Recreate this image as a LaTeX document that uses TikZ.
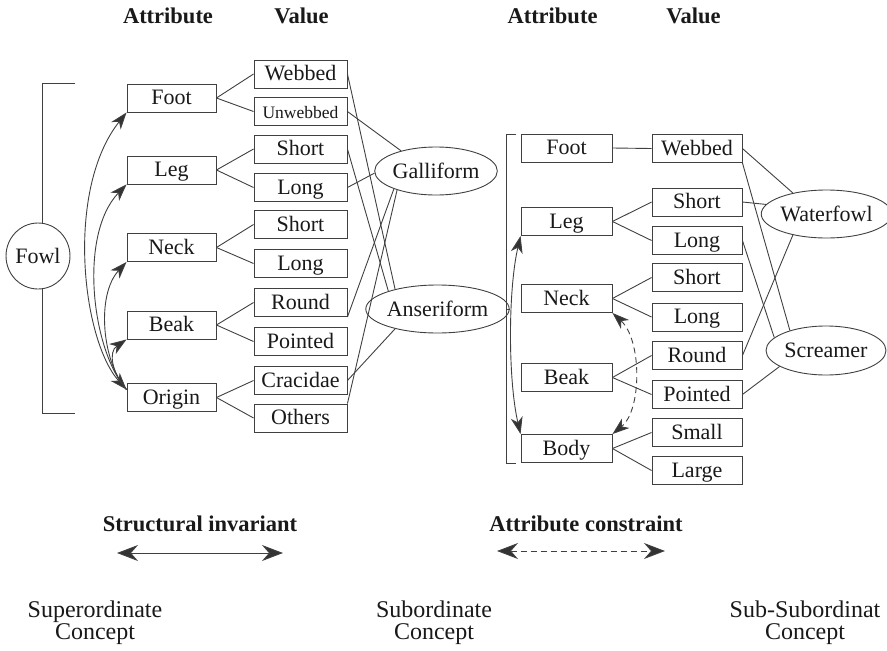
\documentclass[tikz,border=0pt]{standalone}
\usepackage{fontspec}
\setmainfont{Liberation Serif}
\usetikzlibrary{shapes.geometric,arrows.meta}

\begin{document}
\begin{tikzpicture}[x=1pt,y=-1pt,
  ink/.style={draw=black!75, line width=0.9pt},
  link/.style={ink},
  box/.style={ink, rectangle, inner sep=0pt, minimum height=28pt,
    text=black!90, font=\fontsize{22}{24}\selectfont,
    text height=15pt, text depth=2pt},
  attrl/.style={box, minimum width=89pt},
  vall/.style={box, minimum width=93pt},
  attrr/.style={box, minimum width=91pt},
  valr/.style={box, minimum width=90pt},
  taxon/.style={ink, ellipse, inner sep=0pt, fill=white, text=black!90,
    font=\fontsize{22}{24}\selectfont, minimum height=48pt},
  head/.style={anchor=base, text=black!90, font=\bfseries\fontsize{22.5}{24}\selectfont},
  level/.style={align=center, text=black!90, inner sep=0pt,
    font=\fontsize{24}{22}\selectfont},
  headtip/.tip={Stealth[length=17pt,width=12pt,inset=5pt,fill=black!80]},
  bigtip/.tip={Stealth[length=21pt,width=16pt,inset=7pt,fill=black!80]},
  bothtips/.style={headtip-headtip},
  endtip/.style={-headtip},
  bigtips/.style={bigtip-bigtip},
  dashline/.style={dash pattern=on 6pt off 4pt}
]
\useasboundingbox (0,0) rectangle (887,651);

% column headings
\node[head] at (168,23) {Attribute};
\node[head] at (301.5,23) {Value};
\node[head] at (552.5,23) {Attribute};
\node[head] at (693.5,23) {Value};

% ---------- superordinate concept ----------
\draw[ink] (75,83) -- (42,83) -- (42,413) -- (75,413);
\node[taxon, minimum width=60pt, minimum height=66pt] (fowl) at (38,256) {Fowl};

\node[attrl] (lfoot)   at (171.5,98)    {Foot};
\node[attrl] (lleg)    at (171.5,170)   {Leg};
\node[attrl] (lneck)   at (171.5,247.5) {Neck};
\node[attrl] (lbeak)   at (171.5,325)   {Beak};
\node[attrl] (lorigin) at (171.5,397.5) {Origin};

\node[vall] (lwebbed)    at (300.5,74)    {Webbed};
\node[vall, font=\fontsize{17.5}{19}\selectfont] (lunwebbed) at (300.5,111.5) {Unwebbed};
\node[vall] (llegshort)  at (300.5,149)   {Short};
\node[vall] (lleglong)   at (300.5,187.5) {Long};
\node[vall] (lneckshort) at (300.5,224.5) {Short};
\node[vall] (lnecklong)  at (300.5,263.5) {Long};
\node[vall] (lround)     at (300.5,302.5) {Round};
\node[vall] (lpointed)   at (300.5,341.5) {Pointed};
\node[vall] (lcracidae)  at (300.5,380.5) {Cracidae};
\node[vall] (lothers)    at (300.5,418)   {Others};

\draw[link] (lfoot.east)   -- (lwebbed.west);
\draw[link] (lfoot.east)   -- (lunwebbed.west);
\draw[link] (lleg.east)    -- (llegshort.west);
\draw[link] (lleg.east)    -- (lleglong.west);
\draw[link] (lneck.east)   -- (lneckshort.west);
\draw[link] (lneck.east)   -- (lnecklong.west);
\draw[link] (lbeak.east)   -- (lround.west);
\draw[link] (lbeak.east)   -- (lpointed.west);
\draw[link] (lorigin.east) -- (lcracidae.west);
\draw[link] (lorigin.east) -- (lothers.west);

% structural invariants between the attributes (one shared tip at Origin)
\draw[link, bothtips] (lorigin.170) .. controls (82,340) and (65,190) .. (lfoot.south west);
\draw[link, endtip] (lorigin.170) .. controls (92,351) and (78,235) .. (lleg.south west);
\draw[link, endtip] (lorigin.170) .. controls (102,362) and (96,295) .. (lneck.south west);
\draw[link, endtip] (lorigin.170) .. controls (112,373) and (108,352) .. (lbeak.south west);

% ---------- subordinate concepts ----------
\node[taxon, minimum width=117pt] (galliform)  at (436,171)   {Galliform};
\node[taxon, minimum width=121pt] (anseriform) at (437.5,309) {Anseriform};

\draw[link] (lunwebbed.east)  -- (galliform.150);
\draw[link] (lleglong.east)   -- (galliform.182);
\draw[link] (lround.south east) -- (galliform.203);
\draw[link] (lothers.north east) -- (galliform.206);
\draw[link] (lwebbed.east)    -- (anseriform.155);
\draw[link] (llegshort.east)  -- (anseriform.160);
\draw[link] (lcracidae.east)  -- (anseriform.205);

% ---------- sub-subordinate concept ----------
\draw[ink] (516,134) -- (506,134) -- (506,463) -- (516,463);
\coordinate (rjoin) at (506,309);
\draw[link] (anseriform.east) -- (rjoin);

\node[attrr] (rfoot) at (566.5,148)   {Foot};
\node[attrr] (rleg)  at (566.5,221.5) {Leg};
\node[attrr] (rneck) at (566.5,298.5) {Neck};
\node[attrr] (rbeak) at (566.5,377.5) {Beak};
\node[attrr] (rbody) at (566.5,448.5) {Body};

\node[valr] (rwebbed)    at (697,148.5) {Webbed};
\node[valr] (rlegshort)  at (697,202)   {Short};
\node[valr] (rleglong)   at (697,240.5) {Long};
\node[valr] (rneckshort) at (697,277.5) {Short};
\node[valr] (rnecklong)  at (697,317)   {Long};
\node[valr] (rround)     at (697,355.5) {Round};
\node[valr] (rpointed)   at (697,394.5) {Pointed};
\node[valr] (rsmall)     at (697,432.5) {Small};
\node[valr] (rlarge)     at (697,470.5) {Large};

\draw[link] (rfoot.east) -- (rwebbed.west);
\draw[link] (rleg.east)  -- (rlegshort.west);
\draw[link] (rleg.east)  -- (rleglong.west);
\draw[link] (rneck.east) -- (rneckshort.west);
\draw[link] (rneck.east) -- (rnecklong.west);
\draw[link] (rbeak.east) -- (rround.west);
\draw[link] (rbeak.east) -- (rpointed.west);
\draw[link] (rbody.east) -- (rsmall.west);
\draw[link] (rbody.east) -- (rlarge.west);

% structural invariant and attribute constraint
\draw[link, bothtips] (rleg.south west) .. controls (508,290) and (508,380) .. (rbody.north west);
\draw[link, dashline, bothtips] (rneck.south east) .. controls (642,340) and (642,410) .. (rbody.north east);

\node[taxon, minimum width=119pt] (waterfowl) at (826.5,214)  {Waterfowl};
\node[taxon, minimum width=120pt, minimum height=49pt] (screamer) at (826,350.5) {Screamer};

\draw[link] (rwebbed.east)       -- (waterfowl.148);
\draw[link] (rlegshort.east)     -- (waterfowl.171);
\draw[link] (rround.east)        -- (waterfowl.212);
\draw[link] (rwebbed.south east) -- (screamer.151);
\draw[link] (rleglong.east)      -- (screamer.166);
\draw[link] (rpointed.east)      -- (screamer.199);

% ---------- legend ----------
\node[head] at (200,531) {Structural invariant};
\coordinate (siL) at (117,553);
\coordinate (siR) at (283,553);
\draw[link, bigtips] (siL) -- (siR);

\node[head] at (586,531) {Attribute constraint};
\coordinate (acL) at (497,551);
\coordinate (acR) at (665,551);
\draw[link, dashline, bigtips] (acL) -- (acR);

% ---------- concept levels ----------
\node[level] at (95,623)  {Superordinate\\Concept};
\node[level] at (434,623) {Subordinate\\Concept};
\node[level] at (805,623) {Sub-Subordinat\\Concept};
\end{tikzpicture}
\end{document}
